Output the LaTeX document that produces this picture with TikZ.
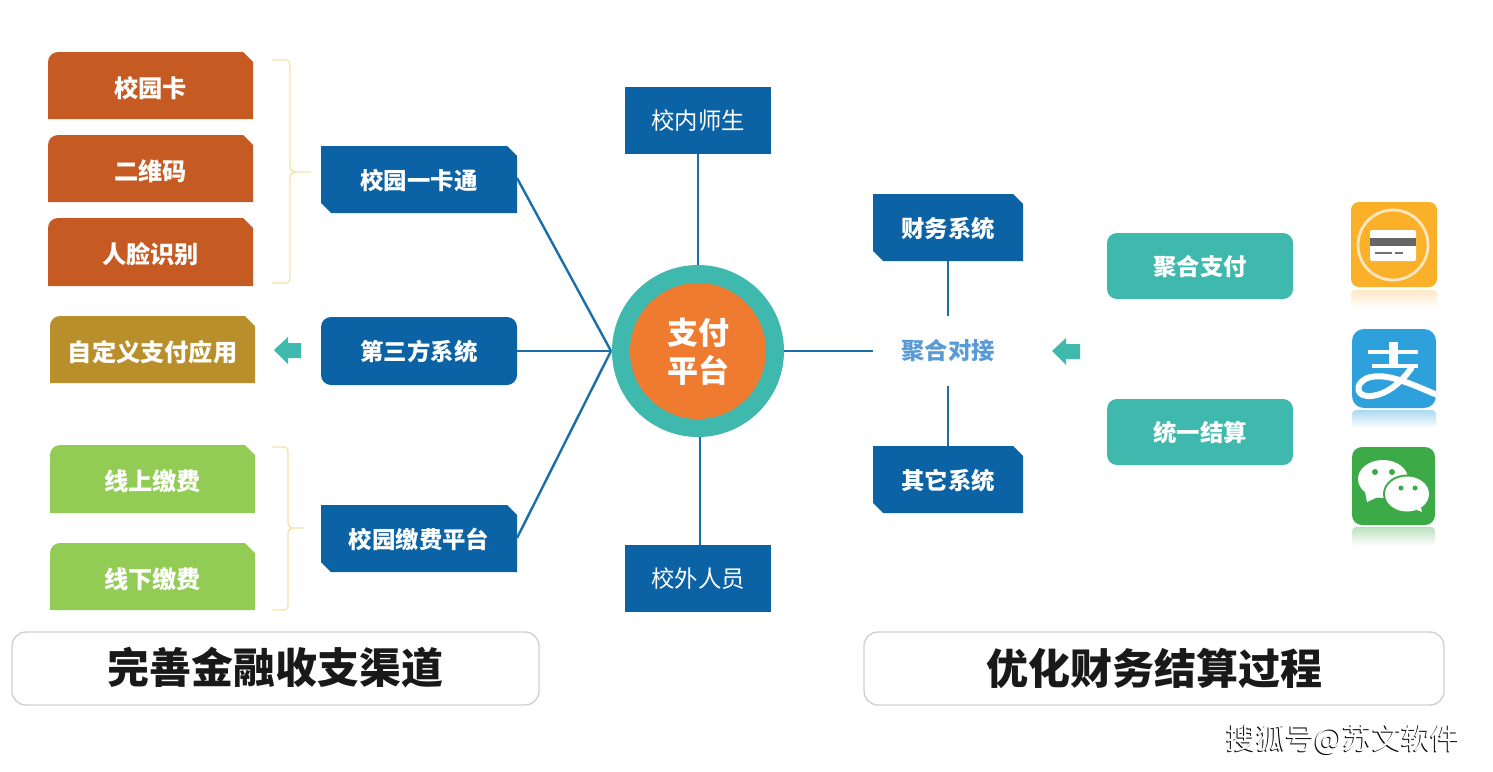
\documentclass[tikz,border=0pt]{standalone}
\usepackage{fontspec}
\setmainfont{Noto Sans CJK SC}
\usetikzlibrary{calc}
\definecolor{rust}{HTML}{C55A22}
\definecolor{ochre}{HTML}{B98F2B}
\definecolor{leaf}{HTML}{92CC55}
\definecolor{navy}{HTML}{0B62A4}
\definecolor{teal2}{HTML}{3FB8AD}
\definecolor{orng}{HTML}{EE7B30}
\definecolor{brace}{HTML}{F8E3AE}
\definecolor{linkb}{HTML}{5B9BD5}
\definecolor{wire}{HTML}{1A6FA8}
\definecolor{amber}{HTML}{FBB02A}
\definecolor{alib}{HTML}{2EA0DC}
\definecolor{wech}{HTML}{3BAA47}
\tikzset{
  lbl/.style={inner sep=0pt,outer sep=0pt,text=white,font=\fontsize{11.7}{14}\selectfont\bfseries},
  lblbig/.style={inner sep=0pt,outer sep=0pt,text=white,font=\fontsize{12.1}{14}\selectfont\bfseries},
  wirel/.style={draw=wire,line width=1.2pt},
  bracel/.style={draw=brace,line width=0.7pt},
  flow/.style={fill=teal2},
  panel/.style={draw=black!18,line width=0.7pt,fill=white,rounded corners=7pt},
  ttl/.style={font=\fontsize{21}{25}\selectfont\bfseries,text=black!90},
}
% x1 y1 x2 y2 colour name text: tl round, tr snip
\newcommand{\tabbox}[7]{%
  \fill[#5] (#1,#4) -- (#1,#2+10) arc[start angle=180,end angle=270,radius=10] -- (#3-10,#2) -- (#3,#2+10) -- (#3,#4) -- cycle;
  \node[lblbig] (#6) at ({(#1+#3)/2},{(#2+#4)/2+2.5}) {#7};}
% tr and bl snip
\newcommand{\snipbox}[7]{%
  \fill[#5] (#1,#2) -- (#3-10,#2) -- (#3,#2+10) -- (#3,#4) -- (#1+10,#4) -- (#1,#4-10) -- cycle;
  \node[lbl] (#6) at ({(#1+#3)/2},{(#2+#4)/2+1}) {#7};}
\newcommand{\roundbox}[7]{%
  \fill[#5,rounded corners=5pt] (#1,#2) rectangle (#3,#4);
  \node[lbl] (#6) at ({(#1+#3)/2},{(#2+#4)/2+0.5}) {#7};}
\begin{document}
\begin{tikzpicture}[x=0.5pt,y=-0.5pt]
\useasboundingbox (0,0) rectangle (1493,771);
\fill[white] (0,0) rectangle (1493,771);

% anchors for the connectors
\coordinate (hubL) at (611,351);
\coordinate (hubB) at (700,437);
\coordinate (hubT) at (698,265);
\coordinate (hubR) at (784,351);

% left column
\tabbox{48}{52}{253}{119}{rust}{card}{校园卡}
\tabbox{48}{135}{253}{202}{rust}{qr}{二维码}
\tabbox{48}{218}{253}{286}{rust}{face}{人脸识别}
\tabbox{50}{316}{255}{383}{ochre}{custom}{自定义支付应用}
\tabbox{50}{445}{255}{513}{leaf}{online}{线上缴费}
\tabbox{50}{543}{255}{610}{leaf}{offline}{线下缴费}

% braces
\draw[bracel] (272,60) -- (285,60) .. controls (289,60) and (290,62) .. (290,66) -- (290,166) .. controls (290,170) and (292,172) .. (296,172) -- (311,172);
\draw[bracel] (272,283) -- (285,283) .. controls (289,283) and (290,281) .. (290,277) -- (290,178) .. controls (290,174) and (292,172) .. (296,172);
\draw[bracel] (272,447) -- (283,447) .. controls (287,447) and (288,449) .. (288,453) -- (288,522) .. controls (288,526) and (290,528) .. (294,528) -- (304,528);
\draw[bracel] (272,610) -- (283,610) .. controls (287,610) and (288,608) .. (288,604) -- (288,534) .. controls (288,530) and (290,528) .. (294,528);

% second column
\snipbox{321}{146}{517}{213}{navy}{yikatong}{校园一卡通}
\roundbox{321}{317}{517}{385}{navy}{third}{第三方系统}
\snipbox{321}{505}{517}{572}{navy}{jiaofei}{校园缴费平台}

% arrows
\fill[flow] (274,350) -- (288,337) -- (288,343) -- (301,343) -- (301,358) -- (288,358) -- (288,364) -- cycle;
\fill[flow] (1052,351) -- (1066,338) -- (1066,344) -- (1080,344) -- (1080,359) -- (1066,359) -- (1066,365) -- cycle;

% top / bottom
\fill[navy] (625,87) rectangle (771,154);
\node[lbl,font=\fontsize{11.7}{14}\selectfont] (staff) at (698,121) {校内师生};
\fill[navy] (625,545) rectangle (771,612);
\node[lbl,font=\fontsize{11.7}{14}\selectfont] (outer) at (698,579) {校外人员};

% right side
\snipbox{873}{194}{1023}{261}{navy}{finance}{财务系统}
\snipbox{873}{446}{1023}{513}{navy}{other}{其它系统}
\node[lbl,text=linkb] (juhe) at (948,351) {聚合对接};
\roundbox{1107}{233}{1293}{299}{teal2}{pay}{聚合支付}
\roundbox{1107}{399}{1293}{465}{teal2}{settle}{统一结算}

% connectors
\draw[wirel] (517,178) -- (hubL);
\draw[wirel] (517,351) -- (hubL);
\draw[wirel] (517,538) -- (hubL);
\draw[wirel] (698,154) -- (hubT);
\draw[wirel] (hubB) -- (700,545);
\draw[wirel] (hubR) -- (873,351);
\draw[wirel] (948,261) -- (948,316);
\draw[wirel] (948,386) -- (948,446);

% hub
\fill[teal2] (698,351) circle[radius=86];
\fill[orng] (698,351) circle[radius=68];
\node[align=center,text=white,inner sep=0pt,font=\fontsize{15.5}{19}\selectfont\bfseries] (hub) at (698,352) {支付\\平台};

% yellow icon
\shade[top color=amber!28,bottom color=white,rounded corners=2pt] (1351,290) rectangle (1437,308);
\fill[amber,rounded corners=4pt] (1351,202) rectangle (1437,287);
\draw[amber!30!white,line width=1.4pt] (1393,245) circle[radius=35];
\fill[white,rounded corners=1pt] (1370,230) rectangle (1416,261);
\fill[black!60] (1370,238) rectangle (1416,246);
\fill[black!55] (1375,252) rectangle (1392,254);
\fill[black!55] (1395,252) rectangle (1403,254);
% blue icon
\shade[top color=alib!40,bottom color=white,rounded corners=2pt] (1352,410) rectangle (1436,428);
\fill[alib,rounded corners=6pt] (1352,329) rectangle (1436,408);
\begin{scope}
\clip[rounded corners=6pt] (1352,329) rectangle (1436,408);
\draw[white,line width=1.8pt] (1368,352) -- (1418,352);
\draw[white,line width=1.8pt] (1372,366) -- (1418,366);
\draw[white,line width=4.5pt] (1393,342) -- (1393,366);
\draw[white,line width=3pt] (1412,367) .. controls (1402,382) and (1385,397) .. (1367,396) .. controls (1354,395) and (1356,380) .. (1371,377) .. controls (1390,373) and (1415,386) .. (1440,396);
\end{scope}
% green icon
\shade[top color=wech!35,bottom color=white,rounded corners=2pt] (1352,527) rectangle (1435,546);
\fill[wech,rounded corners=5pt] (1352,447) rectangle (1435,525);
\fill[white] (1383,479) ellipse[x radius=25,y radius=19];
\fill[white] (1365,492) -- (1367,502) -- (1380,496) -- cycle;
\fill[wech] (1407,494) ellipse[x radius=24,y radius=19.5];
\fill[white] (1407,494) ellipse[x radius=22,y radius=17.5];
\fill[white] (1412,508) -- (1422,512) -- (1420,503) -- cycle;
\fill[wech] (1375,472) circle[radius=3] (1392,472) circle[radius=3];
\fill[wech] (1401,488) circle[radius=2.5] (1415,488) circle[radius=2.5];

% panels
\draw[panel] (12,632) rectangle (539,705);
\node[ttl,inner sep=0pt] (ttlL) at (275,668) {完善金融收支渠道};
\draw[panel] (864,632) rectangle (1444,705);
\node[ttl,inner sep=0pt] (ttlR) at (1154,668) {优化财务结算过程};

% watermark
\node[text=black,inner sep=0pt,font=\fontsize{14.7}{17}\selectfont] (wmS) at (1342.5,740.5) {搜狐号@苏文软件};
\node[text=white,inner sep=0pt,font=\fontsize{14.7}{17}\selectfont] (wm) at (1343.5,739.5) {搜狐号@苏文软件};
\end{tikzpicture}
\end{document}
